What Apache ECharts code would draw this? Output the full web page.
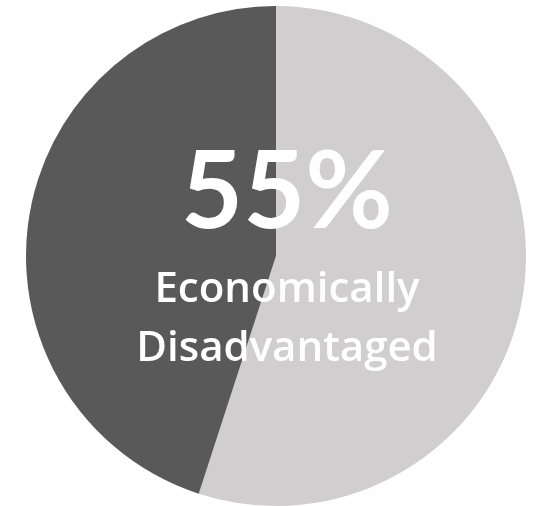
<!DOCTYPE html>
<html>
<head>
<meta charset="utf-8">
<script src="https://cdn.jsdelivr.net/npm/echarts@6/dist/echarts.min.js"></script>
<style>
  html, body { margin: 0; padding: 0; background: #fff; }
  #chart { width: 534px; height: 506px; }
</style>
</head>
<body>
<div id="chart"></div>
<script>
const categories = ["Economically Disadvantaged", "Not Economically Disadvantaged"]
const values = [55, 45]
const colors = ["#d0cecf", "#595959"]
const bigLabel = "55%"
const subLines = ["Economically", "Disadvantaged"]

const chart = echarts.init(document.getElementById("chart"))

// centre text sits above the pie (z), slightly right of the pie centre like the original
const textItem = (text, y, font) => ({
  type: "text",
  x: 287,
  y,
  z: 100,
  silent: true,
  style: {
    text,
    fill: "#fff",
    font,
    align: "center",
    verticalAlign: "middle",
  },
})

chart.setOption({
  animation: false,
  series: [
    {
      type: "pie",
      center: [276, 256],
      radius: [0, 250],
      startAngle: 90,
      clockwise: true,
      silent: true,
      label: { show: false },
      labelLine: { show: false },
      itemStyle: { borderWidth: 0 },
      data: categories.map((name, i) => ({
        name,
        value: values[i],
        itemStyle: { color: colors[i] },
      })),
    },
  ],
  graphic: [
    textItem(bigLabel, 193, "bold 107px Lato"),
    textItem(subLines[0], 290, "600 42px 'Open Sans'"),
    textItem(subLines[1], 349, "600 42px 'Open Sans'"),
  ],
})
</script>
</body>
</html>
